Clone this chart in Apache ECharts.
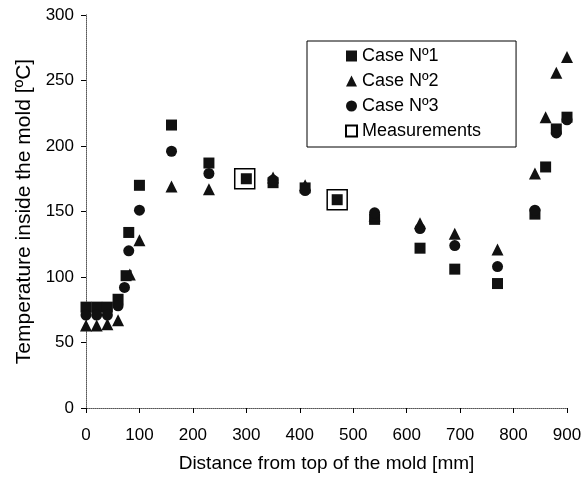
<!DOCTYPE html>
<html>
<head>
<meta charset="utf-8">
<script src="https://cdn.jsdelivr.net/npm/echarts@6/dist/echarts.min.js"></script>
<style>
  html, body { margin: 0; padding: 0; background: #fff; }
  #chart { width: 588px; height: 483px; }
</style>
</head>
<body>
<div id="chart"></div>
<script>
// distance from top of the mold [mm] / temperature [ºC]
const case1X = [0, 20, 40, 60, 75, 80, 100, 160, 230, 300, 350, 410, 470, 540, 625, 690, 770, 840, 860, 880, 900];
const case1Y = [77, 77, 77, 83, 101, 134, 170, 216, 187, 175, 172, 168, 159, 144, 122, 106, 95, 148, 184, 213, 222];

const case2X = [0, 20, 40, 60, 82, 100, 160, 230, 350, 410, 540, 625, 690, 770, 840, 860, 880, 900];
const case2Y = [63, 63, 64, 67, 102, 128, 169, 167, 176, 170, 147, 141, 133, 121, 179, 222, 256, 268];

const case3X = [0, 20, 40, 60, 72, 80, 100, 160, 230, 350, 410, 540, 625, 690, 770, 840, 880, 900];
const case3Y = [71, 71, 71, 78, 92, 120, 151, 196, 179, 174, 166, 149, 137, 124, 108, 151, 210, 220];

const measX = [297, 470];
const measY = [175, 159];

const seriesNames = ['Case Nº1', 'Case Nº2', 'Case Nº3', 'Measurements'];
const xTicks = { min: 0, max: 900, interval: 100 };
const yTicks = { min: 0, max: 300, interval: 50 };

const pairs = (xs, ys) => xs.map((x, i) => [x, ys[i]]);

const font = 'Liberation Sans, Arial, sans-serif';
const ink = '#111';

const chart = echarts.init(document.getElementById('chart'));

const dotted = {
  show: true,
  lineStyle: { color: '#888', type: 'dotted', width: 1 },
};

chart.setOption({
  animation: false,
  backgroundColor: '#fff',
  grid: { left: 86, right: 21, top: 15, bottom: 75 },
  legend: {
    orient: 'vertical',
    left: 307,
    top: 41,
    data: seriesNames,
    borderColor: '#000',
    borderWidth: 1,
    padding: [5, 35, 6, 38],
    itemWidth: 11,
    itemHeight: 11,
    itemGap: 5,
    textStyle: { fontFamily: font, fontSize: 18, color: '#000', lineHeight: 20 },
  },
  xAxis: [{
    type: 'value',
    min: xTicks.min,
    max: xTicks.max,
    interval: xTicks.interval,
    name: 'Distance from top of the mold [mm]',
    nameLocation: 'middle',
    nameGap: 46,
    nameTextStyle: { fontFamily: font, fontSize: 19, color: '#000' },
    axisLine: { show: true, lineStyle: { color: '#000', width: 1 } },
    axisTick: { show: true, length: 5, lineStyle: { color: '#000' } },
    axisLabel: { fontFamily: font, fontSize: 17, color: '#000', margin: 19 },
    splitLine: { show: false },
  }, {
    type: 'value',
    position: 'top',
    min: xTicks.min,
    max: xTicks.max,
    axisLine: dotted,
    axisTick: { show: false },
    axisLabel: { show: false },
    splitLine: { show: false },
  }],
  yAxis: [{
    type: 'value',
    min: yTicks.min,
    max: yTicks.max,
    interval: yTicks.interval,
    name: 'Temperature inside the mold [ºC]',
    nameLocation: 'middle',
    nameGap: 47,
    nameTextStyle: { fontFamily: font, fontSize: 21, color: '#000' },
    axisLine: { show: true, lineStyle: { color: '#000', width: 1 } },
    axisTick: { show: true, length: 5, lineStyle: { color: '#000' } },
    axisLabel: { fontFamily: font, fontSize: 17, color: '#000', margin: 12 },
    splitLine: { show: false },
  }, {
    type: 'value',
    position: 'right',
    min: yTicks.min,
    max: yTicks.max,
    axisLine: dotted,
    axisTick: { show: false },
    axisLabel: { show: false },
    splitLine: { show: false },
  }],
  series: [{
    name: seriesNames[3],
    type: 'scatter',
    symbol: 'rect',
    symbolSize: 20,
    z: 1,
    itemStyle: { color: '#fff', borderColor: '#000', borderWidth: 1.5, opacity: 1 },
    data: pairs(measX, measY),
  }, {
    name: seriesNames[0],
    type: 'scatter',
    symbol: 'rect',
    symbolSize: 11,
    z: 3,
    itemStyle: { color: ink, opacity: 1 },
    data: pairs(case1X, case1Y),
  }, {
    name: seriesNames[1],
    type: 'scatter',
    symbol: 'triangle',
    symbolSize: 12,
    z: 3,
    itemStyle: { color: ink, opacity: 1 },
    data: pairs(case2X, case2Y),
  }, {
    name: seriesNames[2],
    type: 'scatter',
    symbol: 'circle',
    symbolSize: 11,
    z: 3,
    itemStyle: { color: ink, opacity: 1 },
    data: pairs(case3X, case3Y),
  }],
});
</script>
</body>
</html>
